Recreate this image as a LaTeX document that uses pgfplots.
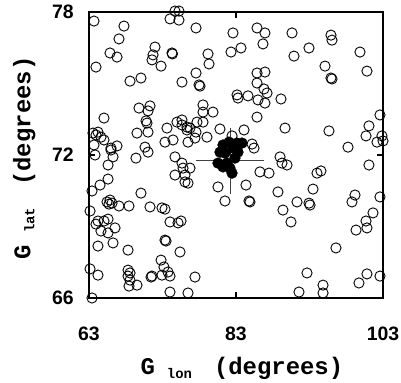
\documentclass[border=0pt]{standalone}
\usepackage{fontspec}
\setsansfont{Liberation Sans}
\setmonofont{Liberation Mono}
\usepackage{pgfplots}
\usepackage{pgfplotstable}
\pgfplotsset{compat=1.18}
\pgfplotstableread{
x y
63.68 77.62
67.76 77.41
67.08 76.87
65.86 76.28
66.81 76.11
63.95 75.69
71.98 76.53
71.71 76.20
71.57 75.99
72.80 75.73
74.29 76.28
74.35 76.24
74.02 77.71
74.70 78.04
75.24 78.04
75.24 77.66
68.58 75.10
70.07 75.23
75.65 75.06
69.80 73.97
71.30 74.06
71.03 73.85
70.76 73.43
70.89 73.34
71.03 72.96
65.04 73.55
69.53 72.92
63.54 72.92
64.22 72.96
64.63 72.75
63.95 72.84
65.04 72.63
63.68 72.42
65.99 72.29
66.81 72.38
70.62 72.33
71.03 72.12
73.61 73.13
73.34 72.54
74.43 72.63
74.97 73.38
75.65 73.47
75.65 73.26
76.33 73.17
77.56 77.33
82.59 77.12
85.86 77.33
86.94 77.12
86.67 76.66
83.68 76.49
82.32 76.32
79.19 76.24
79.33 75.82
77.56 75.44
77.97 74.94
78.10 74.89
85.86 75.44
86.94 75.48
85.86 75.02
86.81 74.77
87.22 74.60
86.94 74.18
85.99 74.31
83.14 74.52
83.27 74.39
84.63 74.48
89.12 74.35
78.51 74.10
78.51 73.80
79.87 73.80
85.86 73.59
76.74 73.13
77.69 73.38
78.51 73.38
77.56 72.96
76.33 73.05
77.42 72.71
76.47 72.54
79.05 72.75
80.82 73.09
82.46 72.80
84.09 73.05
89.67 73.13
85.18 72.46
85.45 72.29
90.62 77.12
95.92 77.03
96.06 76.82
92.93 76.49
90.89 76.15
99.87 76.32
95.11 75.73
95.92 75.23
96.06 75.19
100.82 75.52
102.59 73.68
95.65 73.01
101.09 73.22
100.69 72.80
102.18 72.54
102.86 72.80
103.00 72.59
98.24 72.33
63.82 72.00
65.59 71.58
66.27 71.92
65.99 72.21
69.39 71.87
74.70 71.92
75.65 71.66
75.79 71.45
74.70 71.16
76.06 71.16
76.06 70.87
76.47 70.82
76.74 71.45
65.59 70.99
64.50 70.74
63.41 70.49
70.07 70.40
65.45 70.03
65.86 70.11
65.72 69.94
66.13 69.98
67.08 69.86
68.44 69.86
63.14 69.65
71.30 69.82
72.93 69.78
73.34 69.73
64.22 69.23
65.04 69.23
65.59 69.31
63.95 69.10
66.54 68.94
64.63 68.81
65.59 68.73
66.27 68.31
64.22 68.18
74.02 69.19
75.11 69.15
75.52 69.23
73.34 68.43
73.48 68.39
75.38 67.93
68.31 68.01
72.80 67.59
73.20 67.30
73.75 67.09
74.02 66.92
63.14 67.22
64.22 66.96
68.31 67.17
68.58 67.05
68.31 66.92
68.58 66.75
69.53 66.54
68.44 66.50
71.44 66.88
71.57 66.92
72.93 66.96
74.02 66.25
63.41 66.00
76.47 66.21
80.55 70.66
81.50 70.07
84.36 70.74
84.77 70.07
84.90 70.03
86.26 71.29
87.49 71.24
88.99 71.92
89.26 71.66
89.94 71.58
88.71 70.45
89.39 69.69
77.42 66.88
101.09 71.58
94.02 71.24
94.56 71.33
93.48 70.57
91.30 70.03
92.93 69.98
93.07 69.90
90.48 69.19
99.19 70.32
98.78 70.03
102.59 70.24
101.64 69.57
100.69 69.23
100.82 68.94
99.33 68.85
96.60 68.10
92.66 67.05
100.82 67.01
99.73 66.63
102.59 66.92
94.84 66.54
94.84 66.21
91.57 66.25
}\opentable
\pgfplotstableread{
x y
81.23 72.42
82.05 72.54
83.14 72.50
83.82 72.50
80.82 72.12
81.50 72.08
83.27 72.12
82.59 72.29
82.86 71.87
80.55 71.66
81.77 71.66
81.23 71.50
82.18 71.45
82.46 71.24
}\filledtable
\newcommand{\axlab}[2]{{\fontsize{24}{24}\selectfont\ttfamily\bfseries #1\hspace{12bp}\raisebox{-4bp}{\fontsize{14}{14}\selectfont #2}\hspace{22bp}(degrees)}}
\begin{document}
\begin{tikzpicture}
\begin{axis}[
  scale only axis, width=294bp, height=286bp,
  xmin=63, xmax=103, ymin=66, ymax=78,
  xtick={63,83,103}, ytick={66,72,78},
  axis line style={line width=2.5bp},
  every tick/.style={black, line width=2.5bp},
  major tick length=6bp, tick align=inside,
  clip=false,
  /pgf/number format/assume math mode=true,
  tick label style={font=\fontsize{19.5}{19.5}\selectfont\sffamily\bfseries, inner sep=0pt},
  xticklabel style={anchor=north, yshift=-29bp},
  yticklabel style={anchor=east, xshift=-15bp},
  xlabel={\axlab{G}{lon}},
  ylabel={\axlab{G}{lat}},
  xlabel style={at={(axis description cs:0.52,-0.245)}, anchor=center},
  ylabel style={at={(axis description cs:-0.22,0.49)}, anchor=center},
]
\addplot[only marks, mark=o, mark size=5.1bp, mark options={line width=0.9bp, black}] table[x=x,y=y] {\opentable};
\addplot[only marks, mark=*, mark size=5.4bp, mark options={black, fill=black}] table[x=x,y=y] {\filledtable};
\addplot[draw=none, mark=none, black!75, line width=1bp,
  error bars/.cd, x dir=both, x explicit, y dir=both, y explicit, error mark=none,
  error bar style={black!75, line width=1bp}]
  coordinates {(82.2,71.75) +- (4.6,1.38)};
\end{axis}
\path ([xshift=-89bp,yshift=-82bp]current axis.south west) rectangle ([xshift=18bp,yshift=12bp]current axis.north east);
\end{tikzpicture}
\end{document}
